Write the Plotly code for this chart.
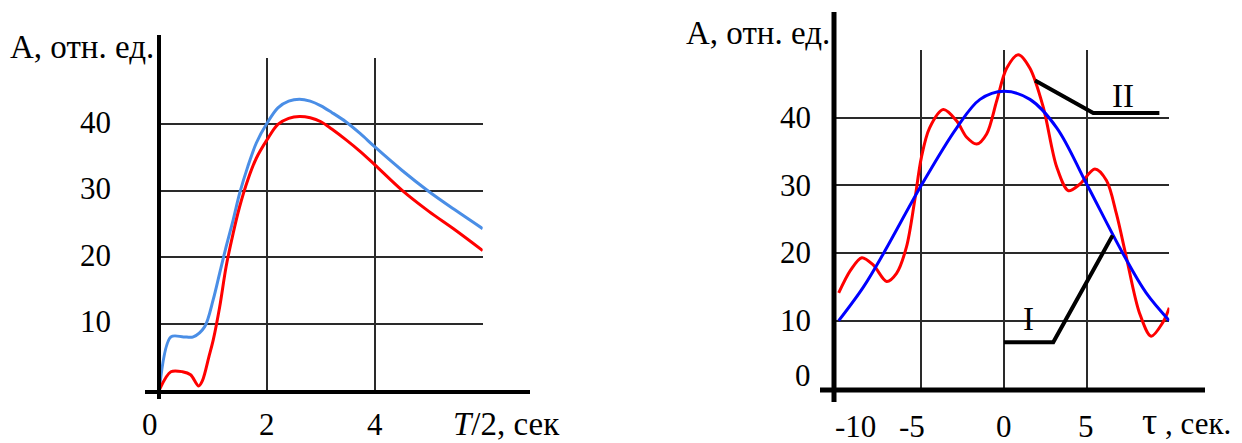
import plotly.graph_objects as go

W, H = 1242, 443

# ---------------- data: left panel ----------------
left_blue_x = [0.0, 0.215, 0.45, 0.63, 0.84, 1.0, 1.12, 1.24, 1.37, 1.49, 1.64, 1.80, 2.0, 2.2, 2.4, 2.6, 2.8, 3.0, 3.2, 3.46, 3.73, 4.0, 4.5, 5.0, 5.49, 6.0]
left_blue_y = [0.0, 8.0, 8.0, 8.0, 9.5, 13.6, 17.6, 21.6, 25.6, 29.6, 33.6, 37.2, 40.2, 42.5, 43.5, 43.8, 43.5, 42.8, 41.8, 40.4, 38.6, 36.6, 33.1, 29.9, 27.1, 24.3]
left_red_x = [0.0, 0.215, 0.43, 0.58, 0.73, 0.8, 0.92, 1.0, 1.12, 1.24, 1.37, 1.49, 1.64, 1.80, 2.0, 2.2, 2.4, 2.6, 2.8, 3.0, 3.2, 3.46, 3.73, 4.0, 4.5, 5.0, 5.49, 6.0]
left_red_y = [0.0, 2.75, 2.75, 2.3, 0.6, 1.4, 5.0, 7.5, 12.5, 18.6, 23.6, 27.6, 31.6, 34.9, 37.7, 40.0, 40.9, 41.2, 41.0, 40.4, 39.3, 37.7, 35.9, 33.9, 30.1, 26.9, 24.1, 21.0]
left_x_ticks = [0, 2, 4]
left_y_ticks = [10, 20, 30, 40]

# ---------------- data: right panel ----------------
right_blue_x = [-10, -8.5, -7.3, -5, -2.86, -1.45, 0, 1.57, 3.19, 5, 7.2, 8.6, 10]
right_blue_y = [10.0, 15.0, 19.9, 30.0, 38.5, 42.7, 43.9, 42.7, 38.5, 30.2, 19.9, 14.1, 10.0]
right_red_x = [-10, -9.27, -8.6, -7.9, -7.1, -6.5, -5.9, -5.4, -5.0, -4.5, -3.67, -2.86, -2.26, -1.65, -1.05, -0.44, 0.16, 0.87, 1.57, 2.38, 3.19, 3.9, 4.6, 5.5, 6.2, 6.8, 7.4, 8.2, 8.9, 9.6, 10]
right_red_y = [14.1, 17.5, 19.3, 18.2, 15.8, 17.0, 20.9, 27.8, 34.1, 38.5, 41.2, 39.5, 37.1, 36.1, 37.6, 42.5, 47.3, 49.3, 47.3, 41.5, 32.7, 29.2, 30.2, 32.4, 30.7, 25.8, 19.4, 11.1, 7.7, 9.7, 11.9]
right_x_ticks = [-10, -5, 0, 5]
right_y_ticks = [0, 10, 20, 30, 40]
leader_II_x = [1.88, 5.4, 9.4]
leader_II_y = [45.5, 40.7, 40.7]
leader_I_x = [0.0, 2.98, 6.57]
leader_I_y = [6.8, 6.8, 22.6]

y_label = "А, отн. ед."
left_x_title = "<i>T</i>/2, сек"
right_x_title = "<span style='font-size:38px'>τ</span> , сек."

FONT = "Liberation Serif"
FS_NUM = 31
FS_TXT = 33


def px(x):
    return x / W


def py(y):
    return 1 - y / H


fig = go.Figure()

fig.add_trace(go.Scatter(x=left_blue_x, y=left_blue_y, mode="lines", line=dict(color="#4a8ee6", width=3, shape="spline", smoothing=0.9), xaxis="x", yaxis="y", showlegend=False))
fig.add_trace(go.Scatter(x=left_red_x, y=left_red_y, mode="lines", line=dict(color="#ff0000", width=3, shape="spline", smoothing=0.9), xaxis="x", yaxis="y", showlegend=False))
fig.add_trace(go.Scatter(x=right_red_x, y=right_red_y, mode="lines", line=dict(color="#ff0000", width=3, shape="spline", smoothing=0.9), xaxis="x2", yaxis="y2", showlegend=False))
fig.add_trace(go.Scatter(x=right_blue_x, y=right_blue_y, mode="lines", line=dict(color="#0000ff", width=3, shape="spline", smoothing=1.0), xaxis="x2", yaxis="y2", showlegend=False))
fig.add_trace(go.Scatter(x=leader_II_x, y=leader_II_y, mode="lines", line=dict(color="black", width=4), xaxis="x2", yaxis="y2", showlegend=False, cliponaxis=False))
fig.add_trace(go.Scatter(x=leader_I_x, y=leader_I_y, mode="lines", line=dict(color="black", width=4), xaxis="x2", yaxis="y2", showlegend=False, cliponaxis=False))

grid = dict(showgrid=True, gridcolor="#2a2a2a", gridwidth=1.5, zeroline=False, showline=False,
            showticklabels=False, ticks="", fixedrange=True)

fig.update_layout(
    width=W, height=H,
    margin=dict(l=0, r=0, t=0, b=0),
    paper_bgcolor="white", plot_bgcolor="white",
    xaxis=dict(domain=[px(159.3), px(482.7)], range=[0, 6], tickvals=[2, 4, 6], anchor="y", **grid),
    yaxis=dict(domain=[py(390), py(58)], range=[0, 50], tickvals=[10, 20, 30, 40, 50], anchor="x", **grid),
    xaxis2=dict(domain=[px(835.4), px(1169.3)], range=[-10.2, 10], tickvals=[-5, 0, 5, 10], anchor="y2", **grid),
    yaxis2=dict(domain=[py(388.3), py(50)], range=[0, 50], tickvals=[10, 20, 30, 40, 50], anchor="x2", **grid),
)

# thick axis lines (extend beyond plot area)
axes_lines = [
    (159, 35, 159, 399, 4),
    (145, 392, 530, 392, 4),
    (834, 12, 834, 402, 5),
    (820, 390, 1205, 390, 5),
]
for x0, y0, x1, y1, w in axes_lines:
    fig.add_shape(type="line", xref="paper", yref="paper", x0=px(x0), y0=py(y0), x1=px(x1), y1=py(y1),
                  line=dict(color="black", width=w))

fnum = dict(family=FONT, size=FS_NUM, color="black")
ftxt = dict(family=FONT, size=FS_TXT, color="black")
ann = []
# left tick labels
for v in left_x_ticks:
    ann.append(dict(x=v, y=0, xref="x", yref="y", text=str(v), showarrow=False, font=fnum,
                    xanchor="center", yanchor="middle", yshift=-34, xshift=(-9 if v == 0 else 0)))
for v in left_y_ticks:
    ann.append(dict(x=0, y=v, xref="x", yref="y", text=str(v), showarrow=False, font=fnum,
                    xanchor="right", yanchor="middle", xshift=-46, yshift=2))
ann.append(dict(x=px(506), y=py(424), xref="paper", yref="paper", text=left_x_title, showarrow=False,
                font=ftxt, xanchor="center", yanchor="middle"))
ann.append(dict(x=px(156), y=py(47), xref="paper", yref="paper", text=y_label, showarrow=False,
                font=ftxt, xanchor="right", yanchor="middle"))
# right tick labels
x_shift_r = {-10: 17, -5: -9, 0: 0, 5: -1}
for v in right_x_ticks:
    ann.append(dict(x=v, y=0, xref="x2", yref="y2", text=str(v), showarrow=False, font=fnum,
                    xanchor="center", yanchor="middle", yshift=-38, xshift=x_shift_r[v]))
for v in right_y_ticks:
    ann.append(dict(x=-10.2, y=v, xref="x2", yref="y2", text=str(v), showarrow=False, font=fnum,
                    xanchor="right", yanchor="middle", xshift=-22, yshift=(13 if v == 0 else 0)))
ann.append(dict(x=px(1140), y=py(421), xref="paper", yref="paper", text=right_x_title, showarrow=False,
                font=dict(family=FONT, size=31, color="black"), xanchor="left", yanchor="middle"))
ann.append(dict(x=px(832), y=py(33), xref="paper", yref="paper", text=y_label, showarrow=False,
                font=ftxt, xanchor="right", yanchor="middle"))
# curve labels
ann.append(dict(x=7.18, y=43.2, xref="x2", yref="y2", text="II", showarrow=False, font=ftxt,
                xanchor="center", yanchor="middle"))
ann.append(dict(x=1.47, y=10.2, xref="x2", yref="y2", text="I", showarrow=False, font=ftxt,
                xanchor="center", yanchor="middle"))

fig.update_layout(annotations=ann)
fig.write_html("out.html", config={"displayModeBar": False},
               post_script="document.body.style.margin='0px';document.body.style.overflow='hidden';")
